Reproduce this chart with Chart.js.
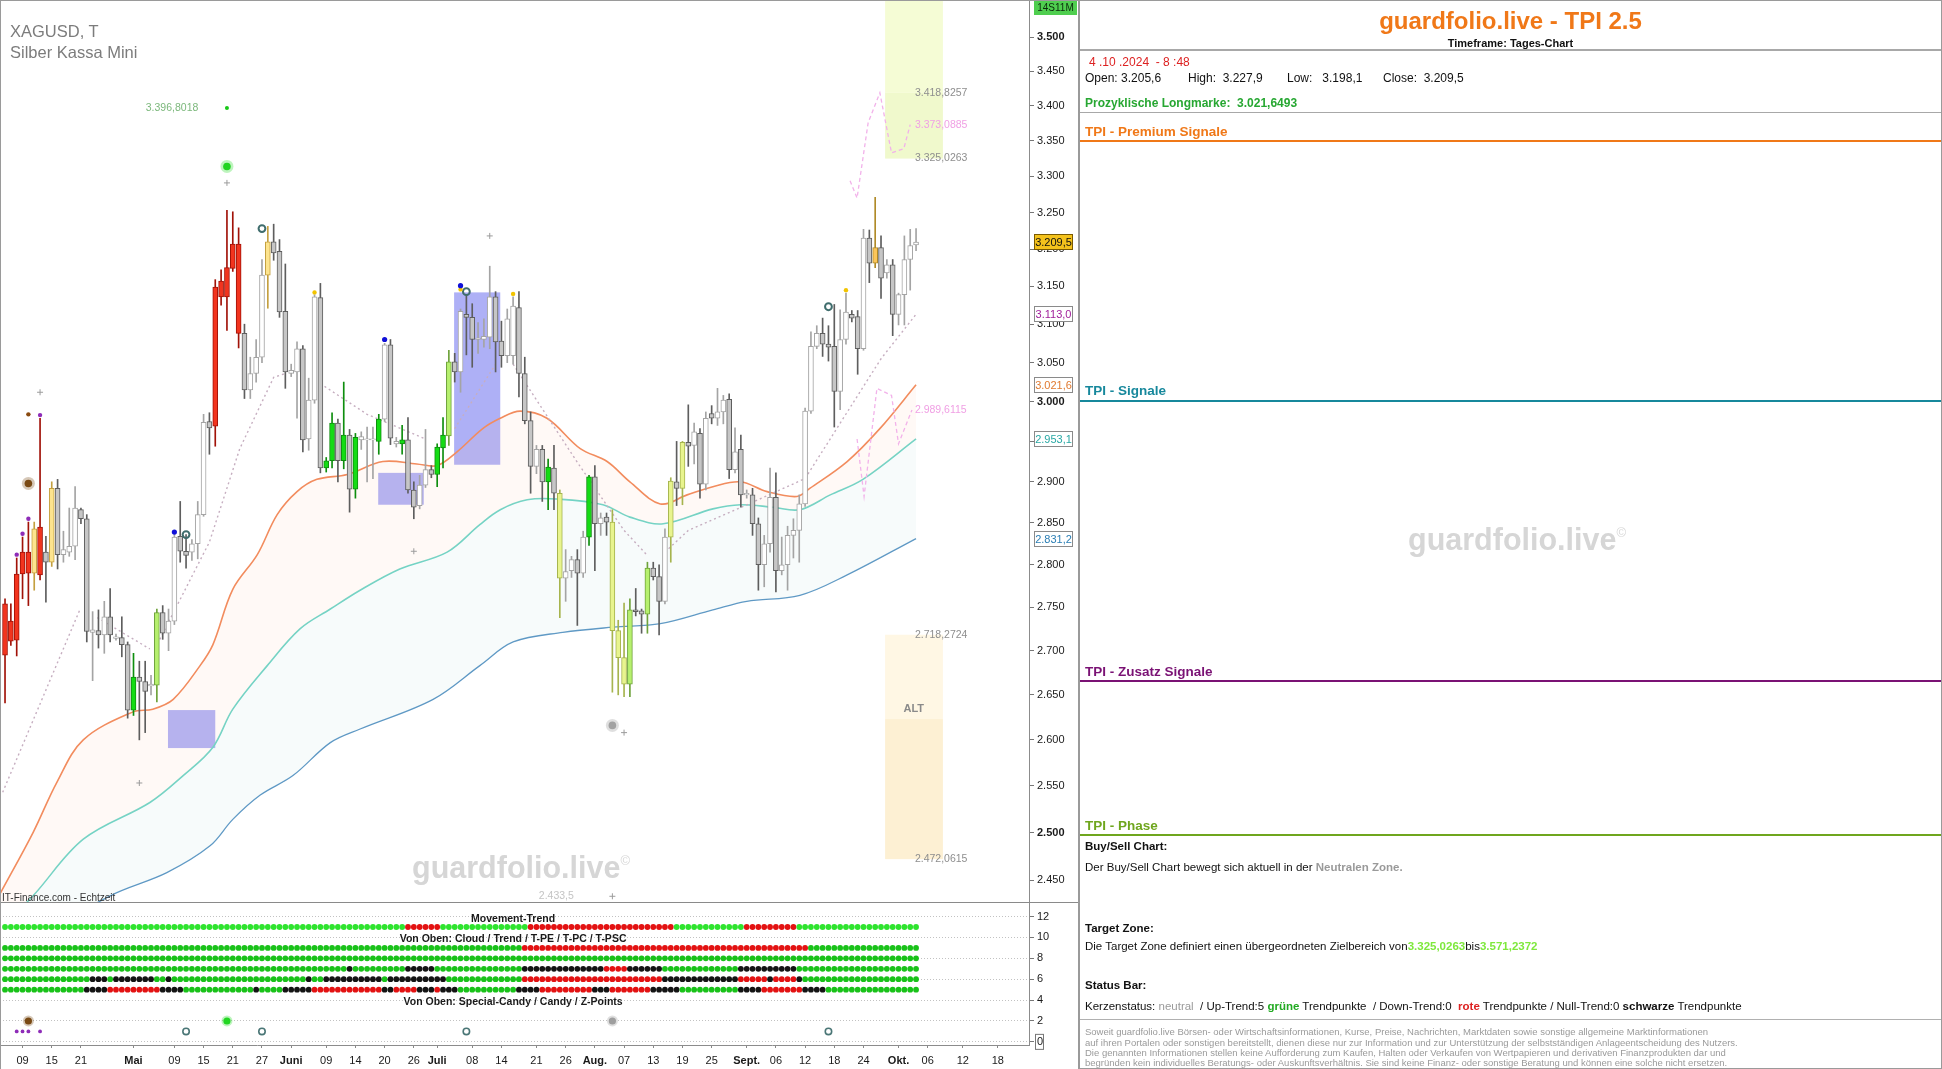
<!DOCTYPE html>
<html lang="de">
<head>
<meta charset="utf-8">
<title>XAGUSD - guardfolio.live TPI 2.5</title>
<script src="https://cdn.jsdelivr.net/npm/chart.js@4.4.1/dist/chart.umd.min.js"></script>
<style>
  html, body { margin: 0; padding: 0; background: #fff; }
  body { width: 1942px; height: 1069px; position: relative; overflow: hidden; font-family: "Liberation Sans", Arial, sans-serif; color: #111; }
  .abs { position: absolute; white-space: pre; }
  #main { position: absolute; left: 0; top: 0; }
  #ind { position: absolute; left: 0; top: 903px; }
  #frameL { position: absolute; left: 0; top: 0; width: 1078px; height: 1069px; box-sizing: border-box; border-left: 1px solid #9a9a9a; border-top: 1px solid #9a9a9a; pointer-events: none; }
  #sep { position: absolute; left: 0; top: 902px; width: 1078px; height: 1px; background: #8a8a8a; }
  #right { position: absolute; left: 1078px; top: 0; width: 864px; height: 1069px; box-sizing: border-box; border: 1px solid #9a9a9a; border-left: 2px solid #9a9a9a; }
  #right .hr { position: absolute; left: 0; right: 0; }
  #right .t { position: absolute; white-space: pre; font-size: 11.5px; line-height: 14px; left: 5px; }
  .wm { color: #d6d6d6; font-weight: bold; font-size: 30.5px; line-height: 36px; }
  .wm sup { font-size: 13px; font-weight: normal; vertical-align: 13px; }
</style>
</head>
<body>
<canvas id="main" width="1078" height="903"></canvas>
<canvas id="ind" width="1078" height="166"></canvas>
<div id="sep"></div>
<div id="frameL"></div>

<div class="abs" style="left:10px;top:21px;font-size:16.5px;line-height:20px;color:#7c7c7c;">XAGUSD, T</div>
<div class="abs" style="left:10px;top:42px;font-size:16.5px;line-height:20px;color:#7c7c7c;">Silber Kassa Mini</div>
<div class="abs wm" style="left:412px;top:843px;">guardfolio.live<sup>©</sup></div>
<div class="abs" style="left:2px;top:892px;font-size:10px;line-height:12px;color:#333;">IT-Finance.com - Echtzeit</div>

<div id="right">
  <div class="abs" style="left:0;width:861px;top:6px;text-align:center;font-weight:bold;font-size:24px;line-height:28px;color:#f07818;">guardfolio.live - TPI 2.5</div>
  <div class="abs" style="left:0;width:861px;top:35px;text-align:center;font-weight:bold;font-size:11px;line-height:14px;">Timeframe: Tages-Chart</div>
  <div class="hr" style="top:48px;height:2px;background:#a8a8a8;"></div>
  <div class="t" style="left:9px;top:54px;font-size:12px;color:#dd2222;">4 .10 .2024  - 8 :48</div>
  <div class="t" style="top:70px;font-size:12px;">Open: 3.205,6</div>
  <div class="t" style="left:108px;top:70px;font-size:12px;">High:  3.227,9</div>
  <div class="t" style="left:207px;top:70px;font-size:12px;">Low:   3.198,1</div>
  <div class="t" style="left:303px;top:70px;font-size:12px;">Close:  3.209,5</div>
  <div class="t" style="top:95px;font-size:12px;font-weight:bold;color:#27a732;">Prozyklische Longmarke:  3.021,6493</div>
  <div class="hr" style="top:111px;height:1px;background:#a8a8a8;"></div>

  <div class="t" style="top:123px;font-size:13.5px;line-height:16px;font-weight:bold;color:#f07818;">TPI - Premium Signale</div>
  <div class="hr" style="top:139px;height:2px;background:#f07818;"></div>

  <div class="t" style="top:382px;font-size:13.5px;line-height:16px;font-weight:bold;color:#17889c;">TPI - Signale</div>
  <div class="hr" style="top:399px;height:2px;background:#17889c;"></div>

  <div class="abs wm" style="left:328px;top:514px;">guardfolio.live<sup>©</sup></div>

  <div class="t" style="top:663px;font-size:13.5px;line-height:16px;font-weight:bold;color:#7a1274;">TPI - Zusatz Signale</div>
  <div class="hr" style="top:679px;height:2px;background:#7a1274;"></div>

  <div class="t" style="top:817px;font-size:13.5px;line-height:16px;font-weight:bold;color:#6fa61e;">TPI - Phase</div>
  <div class="hr" style="top:833px;height:2px;background:#6fa61e;"></div>

  <div class="t" style="top:838px;font-weight:bold;">Buy/Sell Chart:</div>
  <div class="t" style="top:859px;">Der Buy/Sell Chart bewegt sich aktuell in der <b style="color:#9a9a9a;">Neutralen Zone.</b></div>
  <div class="t" style="top:920px;font-weight:bold;">Target Zone:</div>
  <div class="t" style="top:938px;">Die Target Zone definiert einen übergeordneten Zielbereich von<b style="color:#7ee83c;">3.325,0263</b>bis<b style="color:#7ee83c;">3.571,2372</b></div>
  <div class="t" style="top:977px;font-weight:bold;">Status Bar:</div>
  <div class="t" style="top:998px;">Kerzenstatus: <span style="color:#9a9a9a;">neutral</span>  / Up-Trend:5 <b style="color:#22aa22;">grüne</b> Trendpunkte  / Down-Trend:0  <b style="color:#dd2222;">rote</b> Trendpunkte / Null-Trend:0 <b>schwarze</b> Trendpunkte</div>
  <div class="hr" style="top:1018px;height:1px;background:#b0b0b0;"></div>
  <div class="t" style="top:1026px;font-size:9.5px;line-height:10.5px;color:#9a9a9a;">Soweit guardfolio.live Börsen- oder Wirtschaftsinformationen, Kurse, Preise, Nachrichten, Marktdaten sowie sonstige allgemeine Marktinformationen</div>
  <div class="t" style="top:1037px;font-size:9.5px;line-height:10.5px;color:#9a9a9a;">auf ihren Portalen oder sonstigen bereitstellt, dienen diese nur zur Information und zur Unterstützung der selbstständigen Anlageentscheidung des Nutzers.</div>
  <div class="t" style="top:1047px;font-size:9.5px;line-height:10.5px;color:#9a9a9a;">Die genannten Informationen stellen keine Aufforderung zum Kaufen, Halten oder Verkaufen von Wertpapieren und derivativen Finanzprodukten dar und</div>
  <div class="t" style="top:1057px;font-size:9.5px;line-height:10.5px;color:#9a9a9a;">begründen kein individuelles Beratungs- oder Auskunftsverhältnis. Sie sind keine Finanz- oder sonstige Beratung und können eine solche nicht ersetzen.</div>
</div>

<script>
// daily bars 05.04.2024 - 04.10.2024 (index 0 = 05.04.)
const open = [2695,2711,2712,2789,2815,2790,2845,2815,2803,2892, 2812,2815,2822,2866,2855,2721,2723,2718,2739,2714,
  2715,2707,2633,2670,2665,2660,2661,2744,2720,2734, 2834,2816,2815,2825,2860,2975,2969,3136,3136,3174,
  3207,3088,3015,3036,3057,3165,3210,3197,3117,3036, 3038,3068,2953,3002,3135,2917,2926,2973,2926,2958,
  2891,2952,2953,2952,2950,2978,3073,2950,2947,2952, 2890,2871,2896,2915,2909,2942,2957,3051,3038,3113,
  3109,3080,3080,3083,3136,3078,3059,3059,3122,3036, 2976,2919,2940,2900,2917,2886,2784,2793,2806,2790,
  2833,2906,2849,2857,2851,2723,2692,2662,2747,2746, 2742,2796,2786,2757,2833,2900,2892,2949,2945,2960,
  2897,2985,2979,2987,3003,2915,2940,2884,2884,2849, 2800,2825,2881,2793,2800,2835,2841,2873,2988,3071,
  3088,3074,3071,3013,3080,3113,3110,3068,3215,3181, 3202,3168,3179,3113,3139,3186,3205.6];
const high = [2760,2754,2808,2833,2851,2851,2979,2834,2900,2903, 2840,2868,2894,2868,2860,2745,2747,2757,2772,2719,
  2739,2710,2697,2688,2688,2672,2748,2752,2748,2836, 2876,2836,2830,2876,2984,2986,3159,3172,3253,3251,
  3229,3100,3057,3080,3186,3231,3234,3213,3180,3048, 3077,3072,3030,3139,3154,2930,2986,2978,3025,2965,
  2960,2962,2968,2968,2984,3075,3080,2955,2970,2980, 2900,2908,2965,2920,2947,2980,3066,3062,3120,3139,
  3127,3102,3107,3177,3143,3104,3120,3136,3143,3057, 2987,2945,2945,2928,2945,2890,2818,2810,2818,2840,
  2908,2920,2862,2862,2866,2735,2755,2760,2772,2748, 2803,2803,2800,2843,2905,2950,2950,2996,2973,2966,
  2987,2995,3017,3008,3010,2967,2958,2890,2892,2856, 2835,2917,2911,2833,2846,2855,2884,2992,3090,3098,
  3108,3098,3126,3119,3141,3118,3118,3227,3226,3271, 3218,3186,3186,3141,3218,3227,3227.9];
const low = [2641,2706,2694,2760,2752,2770,2782,2756,2798,2795, 2803,2810,2806,2849,2710,2666,2703,2697,2710,2712,
  2693,2624,2627,2600,2608,2650,2642,2713,2700,2730, 2803,2796,2805,2807,2858,2934,2944,3125,3092,3170,
  3069,3004,3004,3025,3050,3121,3185,3109,3017,3032, 2979,2937,2939,2998,2911,2912,2917,2900,2916,2863,
  2880,2940,2900,2904,2934,2975,2946,2943,2934,2886, 2855,2867,2893,2905,2894,2917,2945,3025,3012,3060,
  3044,3062,3070,3068,3038,3044,3050,3048,3006,2972, 2886,2910,2876,2866,2866,2738,2757,2785,2729,2785,
  2823,2793,2835,2835,2653,2650,2648,2648,2740,2720, 2720,2782,2718,2754,2803,2871,2872,2919,2922,2880,
  2890,2972,2970,2972,2904,2911,2869,2880,2835,2770, 2774,2815,2768,2788,2770,2808,2803,2870,2985,3068,
  3058,3052,2968,2990,3074,3103,3035,3066,3155,3175, 3134,3161,3085,3099,3099,3145,3198.1];
const close = [2754,2734,2789,2815,2790,2843,2788,2803,2892,2812, 2818,2822,2868,2855,2722,2724,2718,2739,2718,2716,
  2707,2633,2670,2665,2654,2662,2744,2720,2734,2833, 2816,2811,2825,2860,2974,2967,3149,3157,3175,3207,
  3088,3015,3036,3057,3165,3210,3195,3116,3038,3040, 3068,2952,3002,3136,2917,2926,2973,2926,2958,2891,
  2955,2956,2952,2953,2978,3073,2954,2947,2952,2890, 2869,2896,2915,2909,2943,2958,3051,3038,3117,3109,
  3080,3082,3084,3136,3077,3059,3107,3124,3036,2976, 2919,2940,2900,2918,2886,2784,2792,2806,2790,2833,
  2906,2849,2856,2851,2723,2692,2662,2747,2745,2742, 2796,2786,2757,2833,2901,2892,2949,2944,2962,2897,
  2979,2979,2987,3002,2915,2937,2884,2886,2849,2800, 2825,2881,2793,2800,2835,2841,2873,2988,3071,3088,
  3074,3070,3013,3080,3116,3108,3068,3215,3181,3202, 3161,3179,3113,3139,3186,3205,3209.5];
// candle colour state per bar
const candleColor = "RRRRRYRKYK" + "WWWKKWKWKW" + "KKGKKWLKWW" + "KKWWWKRRRR" + "RKWWWYKKKW" +
  "WKWWKGGKGK" + "GWWWGWKWGK" + "KWWKGGLKWK" + "KWWWKKWWKK" + "KWKGKVWWKW" +
  "GKWKVVVLKK" + "LKKWVKVKWK" + "WKWWKWKWKK" + "WWKWWWWWWW" + "KKKWWKKWKO" + "KWKWWWW";

// x axis ticks (bar index) and labels
const xTickIdx = [3,8,13,22,29,34,39,44,49,55,60,65,70,74,80,85,91,96,101,106,111,116,121,127,132,137,142,147,153,158,164,170];
const xTickLabels = ['09','15','21','Mai','09','15','21','27','Juni','09','14','20','26','Juli','08','14','21','26','Aug.','07','13','19','25','Sept.','06','12','18','24','Okt.','06','12','18'];
const yTicks = [2450,2500,2550,2600,2650,2700,2750,2800,2850,2900,2950,3000,3050,3100,3150,3200,3250,3300,3350,3400,3450,3500];

// indicator lines [bar index, price]
const orangeLine = [[-0.86,2436],[4.8,2500],[8.9,2554],[13.4,2600],[21.9,2631],[25.3,2634],[28.8,2645],[33.4,2683],[35.6,2707],[39,2771],[43.2,2812],[46.6,2860],[50,2888],[53.4,2903],[58.6,2909],[64.7,2925],[70.5,2922],[74,2920],[77.4,2937],[81.8,2966],[84.8,2979],[88.2,2988],[92.8,2979],[98.5,2941],[103.1,2925],[107,2900],[112.2,2873],[116.8,2884],[121.2,2894],[125.9,2900],[130.5,2888],[135.6,2882],[137.8,2892],[144.2,2925],[149.8,2966],[156,3021.6]];
const tealLine = [[-0.86,2400],[4.8,2434],[13.4,2493],[24.8,2532],[30.5,2561],[35.6,2592],[39,2634],[44.9,2683],[50.5,2725],[55.7,2748],[60.8,2770],[67.6,2795],[75.7,2815],[81.3,2848],[84.8,2866],[89.4,2878],[94.5,2879],[102.4,2872],[107,2857],[112.7,2849],[121.2,2867],[125.9,2872],[131.5,2869],[136.1,2866],[141.3,2884],[146.9,2903],[156,2953.1]];
const blueLine = [[-0.86,2370],[18,2434],[27.7,2458],[35.1,2486],[39,2514],[43.7,2540],[49.3,2561],[55.7,2597],[60.8,2612],[73.3,2645],[81.3,2683],[87,2710],[95.5,2721],[104.1,2727],[112.2,2731],[121.2,2747],[127,2757],[136.1,2764],[144.2,2788],[156,2831.2]];
const trailSegments = [
  [[-0.4,2543],[12.8,2747]],
  [[15.8,2738],[24.8,2702]],
  [[26.5,2713],[35,2827],[40.2,2941],[46,3031],[48,3036]],
  [[54,3023],[62,2984],[72,2953]],
  [[77,2966],[84,3048]],
  [[87,3048],[98,2924],[106,2841],[110,2811]],
  [[113,2815],[117,2841],[128,2875],[137,2904],[150,3055],[156,3113]]
];
const projUpper = [[144.7,3294],[145.9,3270],[147.8,3376],[149.8,3419],[151.8,3333],[153.9,3339],[155,3373.0885]];
const projLower = [[145.9,2953],[147.1,2882],[149.3,3017],[151.8,3008],[153,2947],[155.3,2989.6115]];

// signal markers [bar index, price]
const purpleDots = [[2,2812],[3,2837],[4,2855],[6,2983]];
const brownDots = [[4,2984]];
const specialDots = [[4,2898],[38,3314],[104,2616]];
const greenDots = [[38,3396.8018]];
const crossMarks = [[6,3012],[23,2553],[38,3291],[70,2816],[83,3218],[104,2433.5],[106,2608]];
const blueDots = [[29,2839],[65,3080],[78,3151]];
const yellowDots = [[53,3142],[78,3146],[87,3140],[144,3145]];
const ringMarks = [[31,2836],[44,3228],[79,3143],[141,3123]];

// zones
const targetZone = [3325.0263, 3418.8257, 3571.2372];
const altZone = [2472.0615, 2623, 2718.2724];
const blueBoxes = [[27.9,36,2591,2633],[63.9,71.7,2872,2911],[76.9,84.8,2921,3142]];
const levelValues = [3418.8257, 3373.0885, 3325.0263, 2989.6115, 2718.2724, 2472.0615];
const axisMarks = [3209.5, 3113.0, 3021.6, 2953.1, 2831.2];

// status bar rows [from, to] bar index ranges
const movementRed = [[69,74],[90,114],[127,135]];
const cloudRed = [[89,137]];
const tpeRed = [[103,106]];
const tpeBlack = [[59,59],[69,73],[89,102],[107,112],[126,135]];
const tpcRed = [[89,112],[126,130],[132,135]];
const tpcBlack = [[15,17],[19,25],[28,28],[52,52],[55,64],[66,75],[113,125],[131,131],[136,136]];
const tpscRed = [[18,26],[53,64],[67,70],[74,74],[92,100],[104,110],[130,136]];
const tpscBlack = [[14,17],[27,30],[43,43],[48,52],[65,66],[71,73],[75,77],[88,91],[101,103],[111,115],[126,129],[137,140]];
const specialCandy = [4, 38, 104];
const candyDots = [2, 3, 4, 6];
const zPoints = [31, 44, 79, 141];

Chart.defaults.font.family = '"Liberation Sans", Arial, sans-serif';
Chart.defaults.color = '#1a1a1a';

const X_MIN = -0.86, X_MAX = 175.34;
const idx = open.map((_, i) => i);
const pts = arr => arr.map(p => ({ x: p[0], y: p[1] }));

const palette = {
  R: { fill: '#f2341e', line: '#a11208' },
  Y: { fill: '#fde48e', line: '#c4a040' },
  V: { fill: '#e8f48e', line: '#a6b44e' },
  G: { fill: '#14dc14', line: '#0e8e0e' },
  L: { fill: '#b6f06e', line: '#6ea23a' },
  W: { fill: '#ffffff', line: '#a4a4a4' },
  K: { fill: '#c6c6c6', line: '#5e5e5e' },
  O: { fill: '#fcc65a', line: '#b08a28' }
};

function fmtDe(v, d) {
  const parts = v.toFixed(d).split('.');
  const int = parts[0].replace(/\B(?=(\d{3})+(?!\d))/g, '.');
  return parts[1] ? int + ',' + parts[1] : int;
}

function segData(segs) {
  const out = [];
  segs.forEach((s, k) => {
    if (k) out.push({ x: s[0][0] - 0.5, y: null });
    s.forEach(p => out.push({ x: p[0], y: p[1] }));
  });
  return out;
}

const mainPlugin = {
  id: 'mainOverlay',
  beforeDatasetsDraw(chart) {
    const { ctx, chartArea: a, scales: { x, y } } = chart;
    ctx.save();
    ctx.beginPath();
    ctx.rect(a.left, a.top, a.right - a.left, a.bottom - a.top);
    ctx.clip();
    const box = (i0, i1, v0, v1, col) => {
      const px0 = x.getPixelForValue(i0), px1 = x.getPixelForValue(i1);
      const py0 = y.getPixelForValue(v1), py1 = y.getPixelForValue(v0);
      ctx.fillStyle = col;
      ctx.fillRect(px0, py0, px1 - px0, py1 - py0);
    };
    box(150.7, 160.6, targetZone[1], targetZone[2], '#f5fcd5');
    box(150.7, 160.6, targetZone[0], targetZone[1], '#f0f9cc');
    box(150.7, 160.6, altZone[1], altZone[2], '#fff7e4');
    box(150.7, 160.6, altZone[0], altZone[1], '#fdf0d3');
    blueBoxes.forEach(b => box(b[0], b[1], b[2], b[3], '#aeb0f6'));
    ctx.restore();
  },
  afterDatasetsDraw(chart) {
    const { ctx, scales: { x, y } } = chart;
    ctx.save();
    ctx.textBaseline = 'middle';
    ctx.font = '10.5px "Liberation Sans", Arial';
    const lvlCol = ['#8e8e8e', '#f0a0e4', '#8e8e8e', '#f0a0e4', '#8e8e8e', '#8e8e8e'];
    levelValues.forEach((v, k) => {
      ctx.fillStyle = lvlCol[k];
      ctx.fillText(fmtDe(v, 4), x.getPixelForValue(155.8), y.getPixelForValue(v));
    });
    ctx.fillStyle = '#7cb87c';
    ctx.fillText(fmtDe(greenDots[0][1], 4), x.getPixelForValue(24.1), y.getPixelForValue(greenDots[0][1]));
    ctx.fillStyle = '#c4c4c4';
    ctx.fillText(fmtDe(2433.5, 1), x.getPixelForValue(91.4), y.getPixelForValue(2433.5));
    ctx.font = 'bold 11px "Liberation Sans", Arial';
    ctx.fillStyle = '#8a8a8a';
    ctx.textAlign = 'center';
    ctx.fillText('ALT', x.getPixelForValue(155.6), y.getPixelForValue(2634));
    ctx.restore();
  },
  afterDraw(chart) {
    const { ctx, scales: { y } } = chart;
    const x0 = 1034, w = 39;
    const styles = [
      { fill: '#f4c21c', stroke: '#7a5a00', text: '#111' },
      { fill: '#ffffff', stroke: '#8a8a8a', text: '#a01e9a' },
      { fill: '#ffffff', stroke: '#8a8a8a', text: '#e07a30' },
      { fill: '#ffffff', stroke: '#8a8a8a', text: '#28a8a4' },
      { fill: '#ffffff', stroke: '#8a8a8a', text: '#2a7eb4' }
    ];
    ctx.save();
    ctx.font = '11px "Liberation Sans", Arial';
    ctx.textBaseline = 'middle';
    ctx.textAlign = 'center';
    axisMarks.forEach((v, k) => {
      const py = Math.round(y.getPixelForValue(v));
      const s = styles[k];
      ctx.fillStyle = s.fill;
      ctx.fillRect(x0, py - 8, w, 16);
      ctx.strokeStyle = s.stroke;
      ctx.lineWidth = 1;
      ctx.strokeRect(x0 + 0.5, py - 7.5, w - 1, 15);
      ctx.fillStyle = s.text;
      ctx.fillText(fmtDe(v, 1), x0 + w / 2, py + 0.5);
    });
    ctx.fillStyle = '#4fce4f';
    ctx.fillRect(1034, 1, 43, 14);
    ctx.fillStyle = '#0c2c0c';
    ctx.font = '10px "Liberation Sans", Arial';
    ctx.fillText('14S11M', 1055.5, 8.5);
    ctx.restore();
  }
};

const barBase = { type: 'bar', grouped: false, borderSkipped: false };

new Chart(document.getElementById('main'), {
  type: 'scatter',
  data: {
    datasets: [
      { type: 'line', data: pts(orangeLine), borderColor: '#f28c5e', borderWidth: 1.6, pointRadius: 0, tension: 0.35,
        fill: { target: '+1', above: 'rgba(252,200,170,0.11)', below: 'rgba(252,200,170,0.11)' }, order: 6 },
      { type: 'line', data: pts(tealLine), borderColor: '#6fd4c6', borderWidth: 1.6, pointRadius: 0, tension: 0.35,
        fill: { target: '+1', above: 'rgba(180,222,222,0.11)', below: 'rgba(180,222,222,0.11)' }, order: 6 },
      { type: 'line', data: pts(blueLine), borderColor: '#5b96c4', borderWidth: 1.3, pointRadius: 0, tension: 0.35, fill: false, order: 6 },
      { type: 'line', data: segData(trailSegments), borderColor: '#c6aec0', borderWidth: 1.4, borderDash: [2, 3], pointRadius: 0, spanGaps: false, fill: false, order: 5 },
      { type: 'line', data: pts(projUpper), borderColor: '#f2b2ea', borderWidth: 1.3, borderDash: [4, 3], pointRadius: 0, fill: false, order: 5 },
      { type: 'line', data: pts(projLower), borderColor: '#f2b2ea', borderWidth: 1.3, borderDash: [4, 3], pointRadius: 0, fill: false, order: 5 },
      { ...barBase, data: idx.map(i => ({ x: i, y: [low[i], high[i]] })), barThickness: 1,
        backgroundColor: c => palette[candleColor[c.dataIndex]].line, borderWidth: 0, order: 3 },
      { ...barBase, data: idx.map(i => ({ x: i, y: [open[i], close[i]] })), barThickness: 5, minBarLength: 1,
        backgroundColor: c => palette[candleColor[c.dataIndex]].fill,
        borderColor: c => palette[candleColor[c.dataIndex]].line, borderWidth: 1, order: 2 },
      { data: pts(specialDots), pointRadius: 6.5, pointBorderWidth: 0,
        pointBackgroundColor: ['rgba(120,72,20,0.30)', 'rgba(40,220,40,0.30)', 'rgba(150,150,150,0.30)'], order: 1 },
      { data: pts(specialDots), pointRadius: 3.8, pointBorderWidth: 0,
        pointBackgroundColor: ['#7a4a14', '#22d422', '#a2a2a2'], order: 0 },
      { data: pts(purpleDots), pointRadius: 2.2, pointBorderWidth: 0, pointBackgroundColor: '#8e2cb8', order: 0 },
      { data: pts(brownDots), pointRadius: 2.2, pointBorderWidth: 0, pointBackgroundColor: '#8a4a10', order: 0 },
      { data: pts(greenDots), pointRadius: 2, pointBorderWidth: 0, pointBackgroundColor: '#18c818', order: 0 },
      { data: pts(blueDots), pointRadius: 2.6, pointBorderWidth: 0, pointBackgroundColor: '#1010d8', order: 0 },
      { data: pts(yellowDots), pointRadius: 2.2, pointBorderWidth: 0, pointBackgroundColor: '#f2c400', order: 0 },
      { data: pts(crossMarks), pointStyle: 'cross', pointRadius: 3, pointBorderWidth: 1, pointBorderColor: '#9c9c9c', order: 0 },
      { data: pts(ringMarks), pointRadius: 3.4, pointBorderWidth: 2, pointBorderColor: '#3f6d6d', pointBackgroundColor: 'rgba(255,255,255,0)', order: 0 }
    ]
  },
  options: {
    responsive: false,
    animation: false,
    devicePixelRatio: 1,
    events: [],
    layout: { padding: 0, autoPadding: false },
    plugins: { legend: { display: false }, tooltip: { enabled: false } },
    scales: {
      x: { type: 'linear', min: X_MIN, max: X_MAX, display: false, offset: false, grid: { offset: false } },
      y: {
        type: 'logarithmic', position: 'right', min: 2426.6, max: 3555.8,
        afterBuildTicks: s => { s.ticks = yTicks.map(v => ({ value: v })); },
        afterFit: s => { s.width = 49; s.paddingTop = 0; s.paddingBottom = 0; },
        ticks: {
          autoSkip: false, padding: 3, color: '#1a1a1a',
          font: c => ({ size: 11, weight: c.tick && c.tick.value % 500 === 0 ? 'bold' : 'normal' }),
          callback: v => fmtDe(v, 0)
        },
        grid: { drawOnChartArea: false, drawTicks: true, tickLength: 5, tickColor: '#777' },
        border: { display: true, color: '#8c8c8c' }
      }
    }
  },
  plugins: [mainPlugin]
});

// ---------- status bar panel ----------
const inRanges = (i, rs) => rs.some(r => i >= r[0] && i <= r[1]);
const rowColors = (red, black, green) => idx.map(i => inRanges(i, red) ? '#e31212' : inRanges(i, black) ? '#141414' : green);
const rows = [
  { v: 11, red: movementRed, black: [], green: '#2ee42e' },
  { v: 9, red: cloudRed, black: [], green: '#19c219' },
  { v: 8, red: [], black: [], green: '#19c219' },
  { v: 7, red: tpeRed, black: tpeBlack, green: '#19c219' },
  { v: 6, red: tpcRed, black: tpcBlack, green: '#19c219' },
  { v: 5, red: tpscRed, black: tpscBlack, green: '#19c219' }
];

const indPlugin = {
  id: 'indOverlay',
  afterDatasetsDraw(chart) {
    const { ctx, scales: { x, y } } = chart;
    ctx.save();
    ctx.font = 'bold 10.5px "Liberation Sans", Arial';
    ctx.fillStyle = '#1a1a1a';
    ctx.textAlign = 'center';
    ctx.textBaseline = 'middle';
    const cx = x.getPixelForValue(87);
    ctx.fillText('Movement-Trend', cx, y.getPixelForValue(11.8));
    ctx.fillText('Von Oben: Cloud / Trend / T-PE / T-PC / T-PSC', cx, y.getPixelForValue(9.8));
    ctx.fillText('Von Oben: Special-Candy / Candy / Z-Points', cx, y.getPixelForValue(3.83));
    ctx.restore();
  },
  afterDraw(chart) {
    const { ctx, scales: { y } } = chart;
    const py = y.getPixelForValue(0);
    ctx.save();
    ctx.strokeStyle = '#777';
    ctx.lineWidth = 1;
    ctx.strokeRect(1035.5, py - 7.5, 8, 15);
    ctx.restore();
  }
};

new Chart(document.getElementById('ind'), {
  type: 'scatter',
  data: {
    datasets: [
      ...rows.map(r => ({
        data: idx.map(i => ({ x: i, y: r.v })), pointRadius: 2.9, pointBorderWidth: 0,
        pointBackgroundColor: rowColors(r.red, r.black, r.green)
      })),
      { data: specialCandy.map(i => ({ x: i, y: 2 })), pointRadius: 5.5, pointBorderWidth: 0,
        pointBackgroundColor: ['rgba(120,72,20,0.30)', 'rgba(40,220,40,0.30)', 'rgba(150,150,150,0.30)'] },
      { data: specialCandy.map(i => ({ x: i, y: 2 })), pointRadius: 3.6, pointBorderWidth: 0,
        pointBackgroundColor: ['#7a4a14', '#22d422', '#a2a2a2'] },
      { data: candyDots.map(i => ({ x: i, y: 1 })), pointRadius: 1.9, pointBorderWidth: 0, pointBackgroundColor: '#8e2cb8' },
      { data: zPoints.map(i => ({ x: i, y: 1 })), pointRadius: 3.2, pointBorderWidth: 1.6,
        pointBorderColor: '#4a7676', pointBackgroundColor: 'rgba(255,255,255,0)' }
    ]
  },
  options: {
    responsive: false,
    animation: false,
    devicePixelRatio: 1,
    events: [],
    layout: { padding: 0, autoPadding: false },
    plugins: { legend: { display: false }, tooltip: { enabled: false } },
    scales: {
      x: {
        type: 'linear', min: X_MIN, max: X_MAX, position: 'bottom', offset: false,
        afterBuildTicks: s => { s.ticks = xTickIdx.map(v => ({ value: v })); },
        afterFit: s => { s.height = 24; s.paddingLeft = 0; s.paddingRight = 0; },
        ticks: {
          autoSkip: false, maxRotation: 0, padding: 6, color: '#1a1a1a',
          font: c => ({ size: 11, weight: /[A-Za-z]/.test(xTickLabels[c.index] || '') ? 'bold' : 'normal' }),
          callback: (v, i) => xTickLabels[i]
        },
        grid: { drawOnChartArea: false, drawTicks: true, tickLength: 3, tickColor: '#888', offset: false },
        border: { display: true, color: '#8c8c8c' }
      },
      y: {
        type: 'linear', position: 'right', min: -0.3, max: 13.3,
        afterBuildTicks: s => { s.ticks = [0, 2, 4, 6, 8, 10, 12].map(v => ({ value: v })); },
        afterFit: s => { s.width = 49; s.paddingTop = 0; s.paddingBottom = 0; },
        ticks: { autoSkip: false, padding: 3, color: '#1a1a1a', font: { size: 11 } },
        grid: { drawOnChartArea: true, color: '#c2c2c2', drawTicks: true, tickLength: 5, tickColor: '#777', tickBorderDash: [] },
        border: { display: true, color: '#8c8c8c', dash: [1, 2] }
      }
    }
  },
  plugins: [indPlugin]
});
</script>
</body>
</html>
